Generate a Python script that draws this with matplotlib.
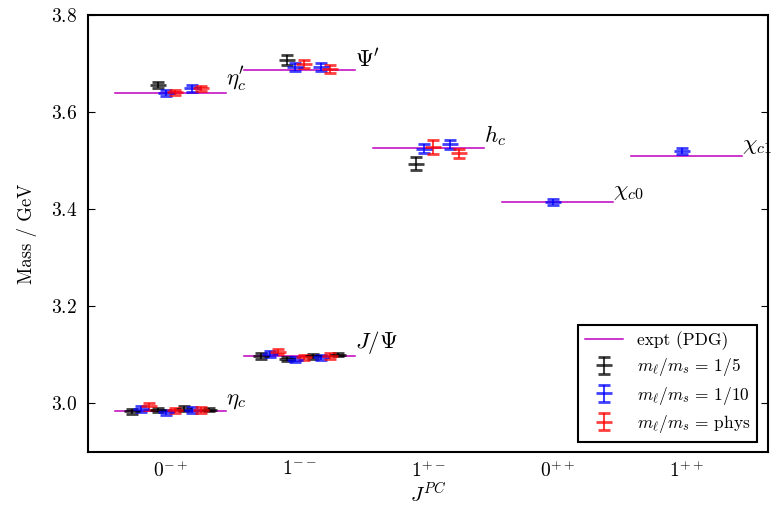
import matplotlib
matplotlib.use('Agg')
import matplotlib.pyplot as plt
import numpy as np

plt.rcParams['font.family'] = 'serif'
plt.rcParams['font.serif'] = ['cmr10', 'DejaVu Serif']
plt.rcParams['mathtext.fontset'] = 'cm'
plt.rcParams['axes.formatter.use_mathtext'] = True

# channels on the x axis
jpc_labels = [r'$0^{-+}$', r'$1^{--}$', r'$1^{+-}$', r'$0^{++}$', r'$1^{++}$']

# experimental (PDG) masses
pdg_names = [r'$\eta_c$', r'$J/\Psi$', r"$\eta_c'$", r"$\Psi'$", r'$h_c$', r'$\chi_{c0}$', r'$\chi_{c1}$']
pdg_chan = [0, 1, 0, 1, 2, 3, 4]
pdg_mass = [2.9834, 3.0969, 3.6392, 3.6861, 3.5254, 3.4148, 3.5107]

# lattice results: channel, slot within channel, mass, error
# m_l/m_s = 1/5
chan_5 = [0, 0, 0, 0, 1, 1, 1, 1, 0, 1, 2]
slot_5 = [0, 3, 6, 9, 0, 3, 6, 9, 3, 3, 3]
mass_5 = [2.984, 2.986, 2.989, 2.987, 3.0975, 3.092, 3.097, 3.100, 3.656, 3.707, 3.494]
err_5 = [0.005, 0.004, 0.005, 0.003, 0.006, 0.004, 0.005, 0.003, 0.007, 0.010, 0.014]

# m_l/m_s = 1/10
chan_10 = [0, 0, 0, 1, 1, 1, 0, 0, 1, 1, 2, 2, 3, 4]
slot_10 = [1, 4, 7, 1, 4, 7, 4, 7, 4, 7, 4, 7, 4, 4]
mass_10 = [2.989, 2.982, 2.987, 3.102, 3.090, 3.095, 3.639, 3.649, 3.693, 3.693, 3.525, 3.534, 3.415, 3.520]
err_10 = [0.006, 0.005, 0.006, 0.006, 0.005, 0.005, 0.006, 0.007, 0.008, 0.008, 0.010, 0.009, 0.006, 0.007]

# m_l/m_s = phys
chan_ph = [0, 0, 0, 1, 1, 1, 0, 0, 1, 1, 2, 2]
slot_ph = [2, 5, 8, 2, 5, 8, 5, 8, 5, 8, 5, 8]
mass_ph = [2.994, 2.986, 2.986, 3.107, 3.095, 3.0975, 3.641, 3.649, 3.699, 3.689, 3.528, 3.515]
err_ph = [0.007, 0.005, 0.006, 0.006, 0.005, 0.006, 0.005, 0.006, 0.008, 0.009, 0.014, 0.009]

half_w = 0.43
step = 0.0667

fig = plt.figure(figsize=(7.74, 5.05), dpi=100)
ax = fig.add_axes([0.114, 0.105, 0.878, 0.865])

for i in range(len(pdg_mass)):
    c = pdg_chan[i]
    ax.plot([c - half_w, c + half_w], [pdg_mass[i]] * 2, color='m', lw=1.1,
            label='expt (PDG)' if i == 0 else None, zorder=1)
    ax.text(c + half_w, pdg_mass[i], pdg_names[i], fontsize=16.5,
            ha='left', va='bottom')

series = [(chan_5, slot_5, mass_5, err_5, 'k', r'$m_\ell/m_s\,=\,1/5$'),
          (chan_10, slot_10, mass_10, err_10, 'b', r'$m_\ell/m_s\,=\,1/10$'),
          (chan_ph, slot_ph, mass_ph, err_ph, 'r', r'$m_\ell/m_s\,=\,\mathrm{phys}$')]

for chan, slot, mass, err, col, lab in series:
    x = np.array(chan) + (np.array(slot) - 4.5) * step
    ax.errorbar(x, mass, yerr=err, fmt='_', color=col, ms=12, mew=2,
                elinewidth=1.5, capsize=4, capthick=1.5, alpha=0.75, label=lab, zorder=2)

ax.set_xlim(-0.64, 4.63)
ax.set_ylim(2.9, 3.8)
ax.set_xticks(range(5))
ax.set_xticklabels(jpc_labels, fontsize=14)
ax.set_yticks([3.0, 3.2, 3.4, 3.6, 3.8])
ax.tick_params(axis='y', direction='in', right=True, labelsize=14, length=5, pad=8)
ax.tick_params(axis='x', length=0, pad=6)
for sp in ax.spines.values():
    sp.set_linewidth(1.5)

ax.set_xlabel(r'$J^{PC}$', fontsize=15, labelpad=1)
ax.set_ylabel('Mass / GeV', fontsize=13.5, labelpad=10)

leg = ax.legend(loc='lower right', fontsize=12.5, fancybox=False, framealpha=1,
                borderaxespad=0.6, handlelength=2.2, borderpad=0.4, labelspacing=0.35)
leg.get_frame().set_edgecolor('k')
leg.get_frame().set_linewidth(1.5)

fig.savefig('out.png', dpi=100)
